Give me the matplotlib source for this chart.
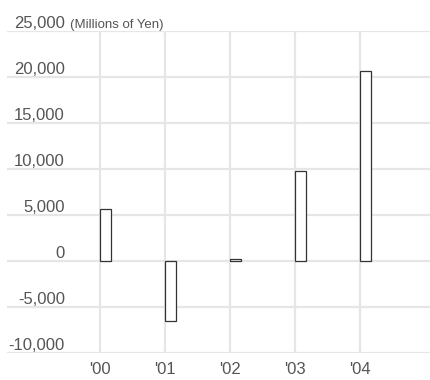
import matplotlib
matplotlib.use("Agg")
import matplotlib.pyplot as plt
import matplotlib.transforms as mtransforms

years = ["'00", "'01", "'02", "'03", "'04"]
values = [5700, -6550, 200, 9800, 20700]
y_ticks = [-10000, -5000, 0, 5000, 10000, 15000, 20000, 25000]
unit_label = "(Millions of Yen)"

plt.rcParams["font.family"] = ["Liberation Sans", "DejaVu Sans"]
text_color = "#555555"
grid_color = "#e6e6e6"

W, H = 430, 380
fig = plt.figure(figsize=(W / 100, H / 100), dpi=100)
ax = fig.add_axes([7 / W, 27 / H, 423 / W, 322 / H])
ax.set_xlim(-1.43, 5.08)
ax.set_ylim(y_ticks[0], y_ticks[-1])
ax.axis("off")

xs = list(range(len(years)))

# grid
for yv in y_ticks:
    ax.axhline(yv, color=grid_color, lw=1.6, zorder=0)
ax.vlines(xs, y_ticks[0], y_ticks[-1], color=grid_color, lw=1.6, zorder=0)

# bars sit to the right of each year's grid line
ax.bar(xs, values, width=0.17, align="edge", facecolor="white",
       edgecolor="#333333", lw=0.9, zorder=3)

# y labels sit just above their grid lines, right-aligned
ytrans = mtransforms.blended_transform_factory(ax.transAxes, ax.transData)
lift = mtransforms.ScaledTranslation(0, 3 / 100, fig.dpi_scale_trans)
for yv in y_ticks:
    ax.text(0.137, yv, f"{yv:,}", transform=ytrans + lift, ha="right",
            va="baseline", fontsize=12, color=text_color)
ax.text(0.149, y_ticks[-1], unit_label, ha="left", va="baseline",
        fontsize=9.5, color=text_color, transform=ytrans + lift)

# year labels under the plot
xtrans = mtransforms.blended_transform_factory(ax.transData, ax.transAxes)
for x, lab in zip(xs, years):
    ax.text(x, -16 / 322, lab, transform=xtrans, ha="center", va="center",
            fontsize=12, color=text_color)

fig.savefig("out.png", dpi=100)
